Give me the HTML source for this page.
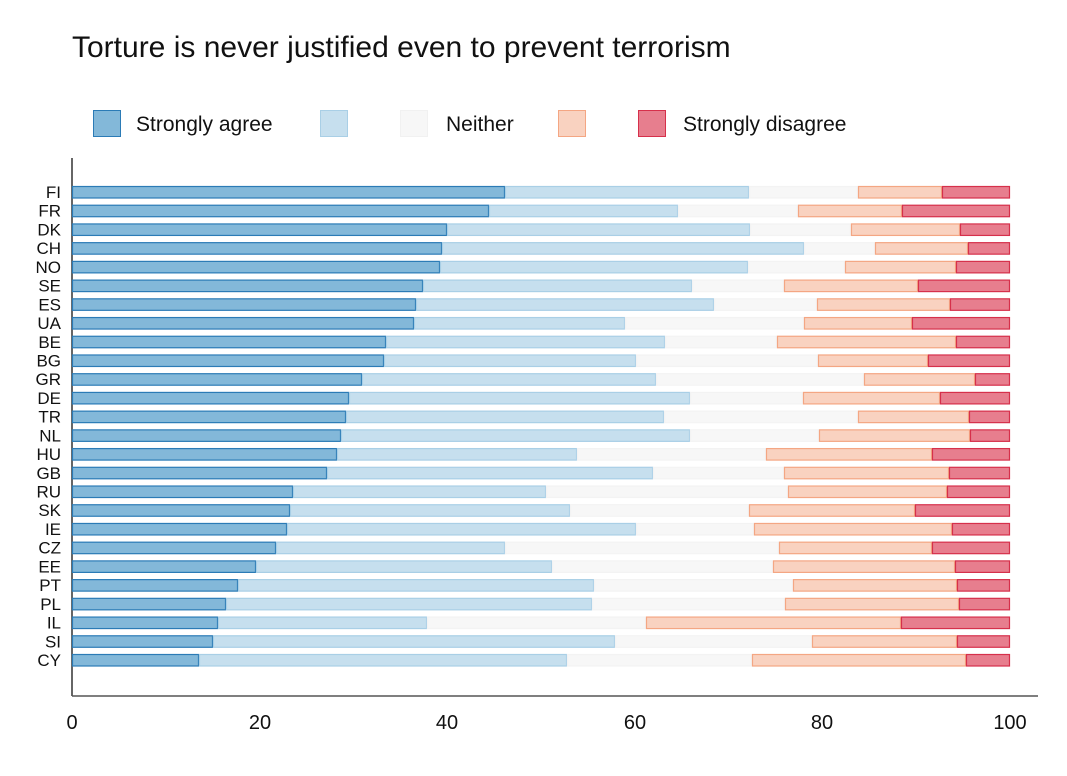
<!DOCTYPE html>
<html><head><meta charset="utf-8"><style>body{margin:0;background:#fff}svg{display:block;font-family:"Liberation Sans",sans-serif}</style></head><body>
<svg width="1067" height="776" viewBox="0 0 1067 776">
<text x="72" y="57" font-size="30" fill="#111">Torture is never justified even to prevent terrorism</text>
<g font-size="21" fill="#111">
<rect x="93.5" y="110.5" width="27" height="26" fill="#83b8d9" stroke="#2b7bb6"/><text x="136" y="131">Strongly agree</text>
<rect x="320.5" y="110.5" width="27" height="26" fill="#c6dfee" stroke="#a9cfe6"/>
<rect x="400.5" y="110.5" width="27" height="26" fill="#f7f7f7" stroke="#f1f1f1"/><text x="446" y="131">Neither</text>
<rect x="558.5" y="110.5" width="27" height="26" fill="#f9d2c0" stroke="#f4a683"/>
<rect x="638.5" y="110.5" width="27" height="26" fill="#e77e8e" stroke="#d6304b"/><text x="683" y="131">Strongly disagree</text>
</g>
<line x1="72" y1="158" x2="72" y2="696" stroke="#333" stroke-width="1.5"/>
<line x1="72" y1="696" x2="1038" y2="696" stroke="#555" stroke-width="1.5"/>
<g font-size="20" fill="#111" text-anchor="middle">
<text x="72" y="729">0</text><text x="260" y="729">20</text><text x="447" y="729">40</text><text x="635" y="729">60</text><text x="822" y="729">80</text><text x="1010" y="729">100</text>
</g>
<g id="bars"></g>
</svg>
<script>
const d=[["FI",505,749,858,942],["FR",489,678,798,902],["DK",447,750,851,960],["CH",442,804,875,968],["NO",440,748,845,956],["SE",423,692,784,918],["ES",416,714,817,950],["UA",414,625,804,912],["BE",386,665,777,956],["BG",384,636,818,928],["GR",362,656,864,975],["DE",349,690,803,940],["TR",346,664,858,969],["NL",341,690,819,970],["HU",337,577,766,932],["GB",327,653,784,949],["RU",293,546,788,947],["SK",290,570,749,915],["IE",287,636,754,952],["CZ",276,505,779,932],["EE",256,552,773,955],["PT",238,594,793,957],["PL",226,592,785,959],["IL",218,427,646,901],["SI",213,615,812,957],["CY",199,567,752,966]];
const st=[["#83b8d9","#2b7bb6"],["#c6dfee","#a9cfe6"],["#f7f7f7","#f3f3f3"],["#f9d2c0","#f4a683"],["#e77e8e","#d6304b"]];
let h="";
d.forEach((r,i)=>{const y=186+i*18.72;const xs=[72,r[1],r[2],r[3],r[4],1010];
h+=`<text x="61" y="${y+12}" font-size="17" fill="#111" text-anchor="end">${r[0]}</text>`;
for(let k=0;k<5;k++)h+=`<rect x="${xs[k]+0.5}" y="${y+0.5}" width="${xs[k+1]-xs[k]-1}" height="11.5" fill="${st[k][0]}" stroke="${st[k][1]}" stroke-width="1.2"/>`;});
document.getElementById("bars").innerHTML=h;
</script>
</body></html>
